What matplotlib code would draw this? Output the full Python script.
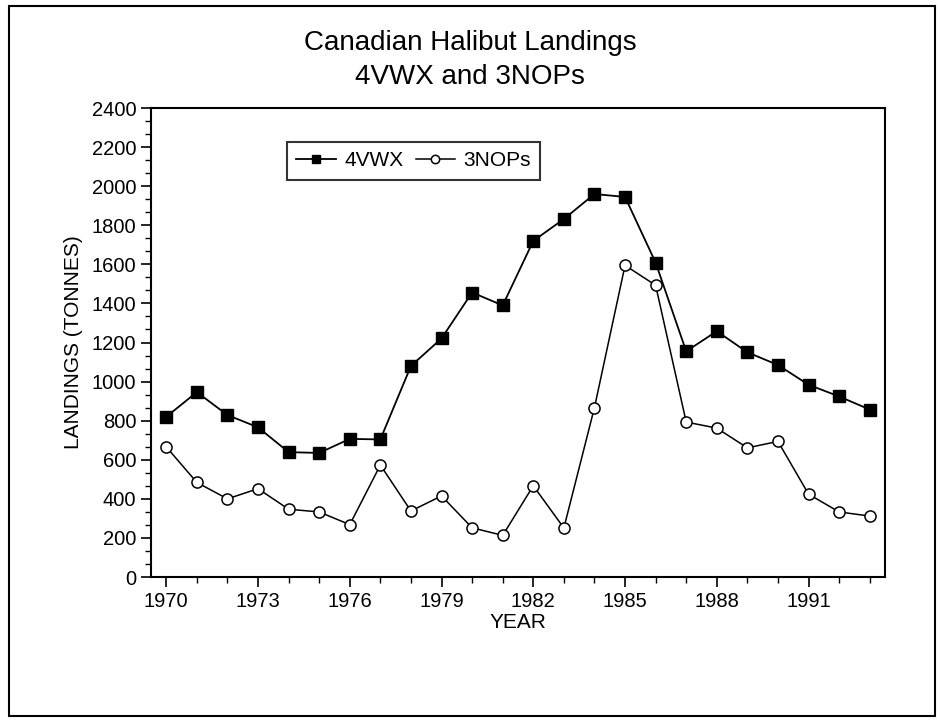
import matplotlib.pyplot as plt
from matplotlib.patches import Rectangle
from matplotlib.ticker import MultipleLocator, AutoMinorLocator

plt.rcParams['font.family'] = ['Liberation Sans', 'DejaVu Sans']

years = list(range(1970, 1994))
vwx = [820, 946, 829, 766, 639, 635, 707, 704, 1080, 1221, 1456, 1390,
       1720, 1832, 1960, 1945, 1609, 1155, 1258, 1150, 1085, 984, 924, 857]
nops = [666, 484, 400, 452, 347, 333, 268, 573, 338, 415, 252, 213,
        467, 251, 867, 1595, 1493, 793, 762, 661, 694, 424, 333, 312]
xtick_years = [1970, 1973, 1976, 1979, 1982, 1985, 1988, 1991]

fig = plt.figure(figsize=(9.4, 7.27), dpi=100)
ax = fig.add_axes([0.1606, 0.2063, 0.7809, 0.6451])

# outer frame around the whole chart
fig.patches.append(Rectangle((9 / 940, 1 - 716 / 727), 926 / 940, 710 / 727,
                             transform=fig.transFigure, fill=False,
                             edgecolor='black', linewidth=1.5))

ax.plot(years, vwx, color='black', linewidth=1.3, marker='s', markersize=8.5,
        markerfacecolor='black', label='4VWX')
ax.plot(years, nops, color='black', linewidth=1.1, marker='o', markersize=8,
        markerfacecolor='white', markeredgewidth=1.1, label='3NOPs')

ax.set_xlim(1969.5, 1993.5)
ax.set_ylim(0, 2400)
ax.set_xticks(xtick_years)
ax.xaxis.set_minor_locator(MultipleLocator(1))
ax.yaxis.set_major_locator(MultipleLocator(200))
ax.yaxis.set_minor_locator(AutoMinorLocator(3))
ax.tick_params(axis='both', which='major', direction='out', length=7,
               width=1.2, labelsize=14.5, colors='black')
ax.tick_params(axis='both', which='minor', direction='out', length=4, width=1.0)
ax.tick_params(axis='x', which='major', pad=4)

for s in ax.spines.values():
    s.set_linewidth(1.5)

ax.set_xlabel('YEAR', fontsize=15, labelpad=1)
ax.set_ylabel('LANDINGS (TONNES)', fontsize=15, labelpad=6)

fig.text(0.5, 1 - 43 / 727, 'Canadian Halibut Landings', ha='center',
         va='center', fontsize=20)
fig.text(0.5, 1 - 77 / 727, '4VWX and 3NOPs', ha='center', va='center',
         fontsize=20)

leg = ax.legend(loc='upper left', bbox_to_anchor=(0.185, 0.9275), ncol=2,
                fontsize=15, frameon=True, fancybox=False, edgecolor='black',
                handlelength=1.9, handletextpad=0.4, columnspacing=0.6,
                borderpad=0.45, borderaxespad=0, markerscale=0.75)
leg.get_frame().set_linewidth(1.5)

fig.savefig('out.png', dpi=100)
